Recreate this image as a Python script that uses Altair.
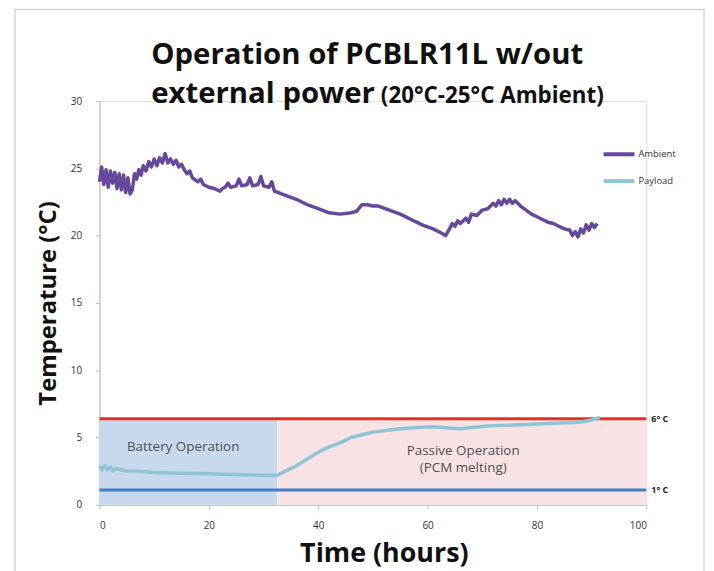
import altair as alt
import pandas as pd

# ---------------- data ----------------
amb_t = [0, 0.4, 0.8, 1.2, 1.6, 2.0, 2.4, 2.8, 3.2, 3.6, 4.0, 4.4, 4.8, 5.2, 5.6, 6.0,
         6.4, 6.8, 7.2, 7.6, 8.0, 8.5, 9.0, 9.5, 10.0, 10.5, 11.0, 11.5, 12.0, 12.5, 13.0,
         13.5, 14.0, 14.5, 15.0, 15.5, 16.0, 16.5, 17.0, 18.0, 18.5, 19.0, 20.0, 21.0, 22.0,
         22.5, 23.0, 23.5, 24.0, 25.0, 25.5, 26.0, 27.0, 27.5, 28.0, 29.0, 29.5, 30.0, 31.0,
         31.5, 32.0, 34.0, 36.0, 38.0, 40.0, 42.0, 44.0, 46.0, 47.0, 48.0, 49.0, 50.0, 51.0,
         53.0, 55.0, 57.0, 59.0, 61.0, 62.5, 63.3, 64.0, 64.5, 65.0, 65.5, 66.0, 67.0, 67.5,
         68.0, 69.0, 70.0, 71.0, 72.0, 72.5, 73.0, 73.5, 74.0, 74.5, 75.0, 75.5, 76.0, 77.0,
         78.0, 79.0, 80.0, 81.0, 82.0, 83.0, 84.0, 85.0, 86.0, 86.5, 87.0, 87.5, 88.0, 88.5,
         89.0, 89.5, 90.0, 90.5, 91.0]
amb_v = [24.0, 25.1, 23.8, 24.9, 23.6, 24.8, 23.9, 24.7, 23.5, 24.6, 23.4, 24.5, 23.2, 24.3, 23.1, 23.4,
         24.6, 24.2, 24.9, 24.5, 25.2, 24.8, 25.5, 25.1, 25.7, 25.2, 25.8, 25.4, 26.1, 25.4, 25.7,
         25.3, 25.6, 25.1, 25.3, 24.9, 24.6, 24.8, 24.3, 24.0, 24.2, 23.8, 23.6, 23.5, 23.3,
         23.5, 23.6, 23.9, 23.6, 23.7, 24.2, 23.7, 23.8, 24.3, 23.7, 23.8, 24.4, 23.7, 23.6,
         24.0, 23.3, 23.0, 22.7, 22.3, 22.0, 21.7, 21.6, 21.7, 21.8, 22.3, 22.3, 22.2, 22.2,
         21.9, 21.6, 21.2, 20.8, 20.5, 20.2, 20.0, 20.5, 20.9, 20.7, 21.1, 20.9, 21.3, 21.0,
         21.6, 21.5, 21.9, 22.0, 22.4, 22.2, 22.6, 22.3, 22.7, 22.4, 22.7, 22.4, 22.6, 22.2,
         21.9, 21.6, 21.4, 21.2, 21.0, 20.9, 20.7, 20.5, 20.4, 20.0, 20.3, 19.9, 20.5, 20.2,
         20.8, 20.4, 20.9, 20.6, 20.9]

pay_t = [0, 0.5, 1.0, 1.5, 2.0, 2.5, 3.0, 4.0, 5.0, 7.0, 10.0, 15.0, 20.0, 25.0, 30.0, 32.5,
         34.0, 36.0, 38.0, 40.0, 42.0, 44.0, 46.0, 48.0, 50.0, 52.0, 55.0, 58.0, 61.0, 64.0,
         66.0, 68.0, 71.0, 74.0, 77.0, 80.0, 83.0, 86.0, 88.0, 90.0, 91.5]
pay_v = [2.9, 2.6, 2.9, 2.6, 2.8, 2.5, 2.7, 2.6, 2.5, 2.5, 2.4, 2.35, 2.3, 2.25, 2.2, 2.2,
         2.5, 2.9, 3.4, 3.9, 4.3, 4.6, 5.0, 5.2, 5.4, 5.5, 5.65, 5.75, 5.8, 5.7,
         5.65, 5.75, 5.85, 5.9, 5.95, 6.0, 6.05, 6.1, 6.15, 6.3, 6.5]

series_names = ["Ambient", "Payload"]
series_colors = ["#65479b", "#8ec4d6"]

phase_names = ["Battery", "Passive"]
phase_start = [0, 32.5]
phase_end = [32.5, 100]
phase_top = [6.3, 6.3]
phase_colors = ["#c9d9ed", "#f7e3e3"]

limit_labels = ["6° C", "1° C"]
limit_values = [6.4, 1.1]
limit_colors = ["#ec2b2b", "#3f7fc6"]

note_text = ["Battery Operation", "Passive Operation", "(PCM melting)"]
note_t = [15.3, 66.5, 66.5]
note_v = [4.3, 4.0, 2.7]

x_ticks = [0, 20, 40, 60, 80, 100]
y_ticks = [0, 5, 10, 15, 20, 25, 30]

# ---------------- tables ----------------
lines_df = pd.concat([
    pd.DataFrame({"t": amb_t, "v": amb_v, "series": series_names[0]}),
    pd.DataFrame({"t": pay_t, "v": pay_v, "series": series_names[1]}),
])
phase_df = pd.DataFrame({"phase": phase_names, "t0": phase_start, "t1": phase_end,
                         "v0": [0, 0], "v1": phase_top})
limit_df = pd.DataFrame({"label": limit_labels, "v": limit_values,
                         "t0": [0, 0], "t1": [100, 100]})
note_df = pd.DataFrame({"text": note_text, "t": note_t, "v": note_v})

FONT = "Open Sans"

x_scale = alt.Scale(domain=[0, 100], nice=False, zero=False)
y_scale = alt.Scale(domain=[0, 30], nice=False)

x_axis = alt.Axis(values=x_ticks, grid=False, domainColor="#bdbdbd", tickColor="#bdbdbd",
                  tickSize=4, labelFontSize=10, labelColor="#333333", labelFont=FONT,
                  labelPadding=12, title="Time (hours)", titleFont=FONT, titleFontSize=27,
                  titleFontWeight="bold", titleColor="#111111", titlePadding=10, titleX=286)
y_axis = alt.Axis(values=y_ticks, grid=False, domainColor="#bdbdbd", tickColor="#bdbdbd",
                  tickSize=4, labelFontSize=10, labelColor="#333333", labelFont=FONT,
                  labelPadding=14, title="Temperature (°C)", titleFont=FONT, titleFontSize=24,
                  titleFontWeight="bold", titleColor="#111111", titlePadding=10)

phases = alt.Chart(phase_df).mark_rect().encode(
    x=alt.X("t0:Q", scale=x_scale, axis=x_axis),
    x2="t1:Q",
    y=alt.Y("v0:Q", scale=y_scale, axis=y_axis),
    y2="v1:Q",
    fill=alt.Fill("phase:N", scale=alt.Scale(domain=phase_names, range=phase_colors), legend=None),
)

limits = alt.Chart(limit_df).mark_rule(strokeWidth=3).encode(
    x="t0:Q", x2="t1:Q", y="v:Q",
    stroke=alt.Stroke("label:N", scale=alt.Scale(domain=limit_labels, range=limit_colors), legend=None),
)

limit_text = alt.Chart(limit_df).mark_text(align="left", baseline="middle", dx=5, fontSize=9,
                                           fontWeight="bold", font=FONT, color="#222222").encode(
    x="t1:Q", y="v:Q", text="label:N")

lines = alt.Chart(lines_df).mark_line(strokeWidth=3.5, strokeJoin="round").encode(
    x="t:Q", y="v:Q",
    color=alt.Color("series:N", scale=alt.Scale(domain=series_names, range=series_colors),
                    legend=alt.Legend(orient="none", legendX=505, legendY=36, title=None,
                                      symbolType="stroke", symbolSize=961, symbolStrokeWidth=4,
                                      labelFontSize=9.5, labelFont=FONT, labelColor="#333333",
                                      labelOffset=2, rowPadding=1)),
    detail="series:N",
)

notes = alt.Chart(note_df).mark_text(fontSize=13.5, font=FONT, color="#505050").encode(
    x="t:Q", y="v:Q", text="text:N")

title1 = alt.Chart(pd.DataFrame({"s": ["Operation of PCBLR11L w/out"]})).mark_text(
    align="left", baseline="alphabetic", fontSize=29.5, fontWeight="bold", font=FONT,
    color="#111111").encode(x=alt.value(52), y=alt.value(-37), text="s:N")
title2 = alt.Chart(pd.DataFrame({"s": ["external power"]})).mark_text(
    align="left", baseline="alphabetic", fontSize=29.5, fontWeight="bold", font=FONT,
    color="#111111").encode(x=alt.value(52), y=alt.value(2), text="s:N")
title3 = alt.Chart(pd.DataFrame({"s": ["(20°C-25°C Ambient)"]})).mark_text(
    align="left", baseline="alphabetic", fontSize=22.5, fontWeight="bold", font=FONT,
    color="#111111").encode(x=alt.value(283), y=alt.value(2), text="s:N")

frame = alt.Chart(pd.DataFrame({"k": [0]})).mark_rect(fill=None, stroke="#d6d6d6", strokeWidth=1.5).encode(
    x=alt.value(-85), x2=alt.value(608), y=alt.value(-92), y2=alt.value(480))

chart = alt.layer(frame, phases, limits, lines, limit_text, notes, title1, title2, title3).resolve_scale(
    color="independent", fill="independent", stroke="independent"
).properties(
    width=550, height=406,
    padding={"left": 92, "top": 92, "right": 60, "bottom": 65},
    autosize=alt.AutoSizeParams(type="none"),
).configure_view(stroke=None).configure(background="white")

chart.save("out.html", embed_options={"renderer": "svg", "actions": False})
